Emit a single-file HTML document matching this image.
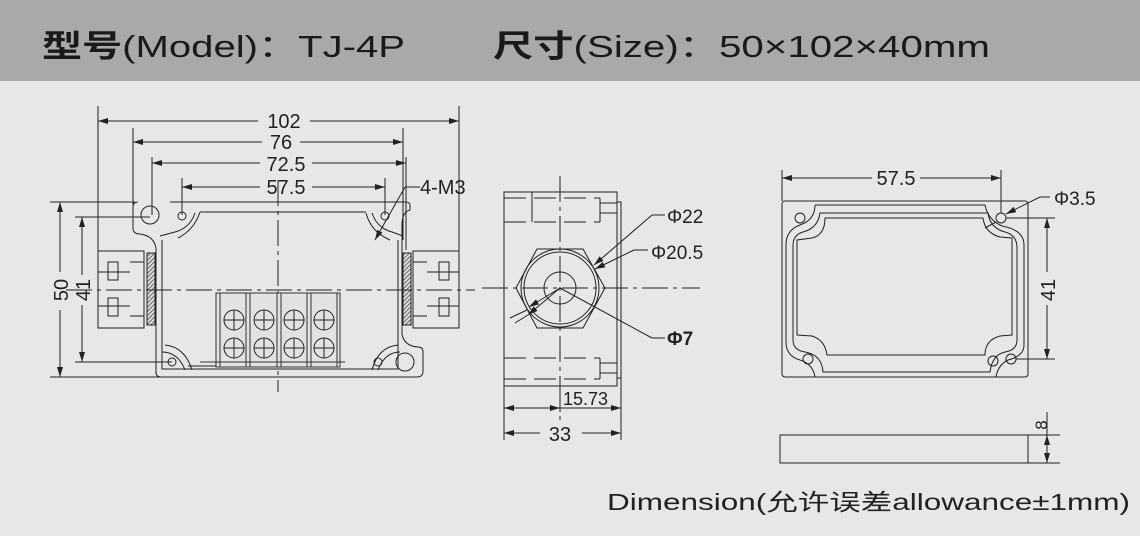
<!DOCTYPE html>
<html><head><meta charset="utf-8"><style>
html,body{margin:0;padding:0;background:#e6e7e8;}
svg{display:block}
</style></head><body>
<svg width="1140" height="536" viewBox="0 0 1140 536" xmlns="http://www.w3.org/2000/svg" font-family="Liberation Sans, sans-serif">
<defs>
<marker id="a" viewBox="0 0 10 6" refX="10" refY="3" markerWidth="10" markerHeight="6" orient="auto-start-reverse" markerUnits="userSpaceOnUse"><path d="M0,0 L10,3 L0,6z" fill="#222"/></marker>
<pattern id="h" width="3" height="3" patternUnits="userSpaceOnUse" patternTransform="rotate(45)"><rect width="3" height="3" fill="#ddd"/><line x1="0" y1="0" x2="0" y2="3" stroke="#333" stroke-width="1.4"/></pattern>
</defs>
<rect width="1140" height="81" fill="#a8a9ab"/>
<text x="42" y="57" font-size="31" fill="#1a1a1a" textLength="363" lengthAdjust="spacingAndGlyphs"><tspan font-family="Noto Sans CJK SC, sans-serif" font-weight="bold">型号</tspan>(Model)：TJ-4P</text>
<text x="493" y="57" font-size="31" fill="#1a1a1a" textLength="497" lengthAdjust="spacingAndGlyphs"><tspan font-family="Noto Sans CJK SC, sans-serif" font-weight="bold">尺寸</tspan>(Size)：50×102×40mm</text>

<g stroke="#222" stroke-width="1" fill="none">
<line x1="98" y1="106" x2="98" y2="252"/><line x1="459" y1="106" x2="459" y2="252"/>
<line x1="133" y1="128" x2="133" y2="205"/><line x1="403" y1="128" x2="403" y2="240"/>
<line x1="152" y1="157" x2="152" y2="215"/><line x1="406" y1="157" x2="406" y2="250"/>
<line x1="182" y1="178" x2="182" y2="215"/><line x1="385" y1="178" x2="385" y2="215"/>
<line x1="98" y1="121" x2="258" y2="121" marker-start="url(#a)"/><line x1="310" y1="121" x2="459" y2="121" marker-end="url(#a)"/>
<line x1="133" y1="142" x2="262" y2="142" marker-start="url(#a)"/><line x1="300" y1="142" x2="403" y2="142" marker-end="url(#a)"/>
<line x1="152" y1="163" x2="260" y2="163" marker-start="url(#a)"/><line x1="312" y1="163" x2="406" y2="163" marker-end="url(#a)"/>
<line x1="182" y1="187" x2="260" y2="187" marker-start="url(#a)"/><line x1="312" y1="187" x2="385" y2="187" marker-end="url(#a)"/>
<line x1="50" y1="202" x2="135" y2="202"/><line x1="50" y1="377" x2="160" y2="377"/>
<line x1="60" y1="202" x2="60" y2="272" marker-start="url(#a)"/><line x1="60" y1="310" x2="60" y2="377" marker-end="url(#a)"/>
<line x1="75" y1="217" x2="150" y2="217"/><line x1="75" y1="362" x2="172" y2="362"/>
<line x1="82" y1="217" x2="82" y2="275" marker-start="url(#a)"/><line x1="82" y1="305" x2="82" y2="362" marker-end="url(#a)"/>
<path d="M138,202 Q133,202 133,207 L133,228 Q133,234 140,234 Q154,236 156,248 L156,372 Q156,377 161,377 L417,377 Q423,377 423,371 L423,352 Q423,347 418,347 Q404,346 402,334 L402,225 Q402,212 410,210 L410,205 Q410,202 405,202 L170,202"/>
<path d="M162,240 L162,369 L398,369 L398,240"/>
<path d="M195,213 Q190,228 175,232 L160,236"/>
<path d="M200,212 Q194,230 178,238"/>
<path d="M372,213 Q377,228 392,232 L403,236"/>
<path d="M366,213 Q371,232 390,240"/>
<path d="M165,345 Q185,347 192,370 M162,352 Q178,352 185,370"/>
<path d="M398,345 Q378,347 372,370 M400,352 Q385,352 378,370"/>
<line x1="200" y1="212" x2="366" y2="212"/>
<line x1="188" y1="366" x2="340" y2="366"/>
<circle cx="150" cy="215" r="9"/><circle cx="182" cy="216" r="4"/><circle cx="385" cy="216" r="4"/>
<circle cx="172" cy="362" r="4"/><circle cx="378" cy="362" r="4"/><circle cx="405" cy="362" r="9"/>
<rect x="98" y="251" width="46" height="77"/>
<rect x="413" y="251" width="46" height="77"/>
<path d="M108,262 L118,262 L118,280 L108,280 Z M108,298 L118,298 L118,316 L108,316 Z M98,272 L130,272 M98,306 L130,306 M130,262 L144,262 M130,316 L144,316"/>
<path d="M439,262 L449,262 L449,280 L439,280 Z M439,298 L449,298 L449,316 L439,316 Z M427,272 L459,272 M427,306 L459,306 M413,262 L427,262 M413,316 L427,316"/>
<rect x="147" y="253" width="8" height="72" fill="url(#h)"/>
<rect x="403" y="253" width="8" height="72" fill="url(#h)"/>
<line x1="66" y1="290" x2="475" y2="290" stroke-dasharray="26,5,4,5"/>
<line x1="278" y1="180" x2="278" y2="392" stroke-dasharray="26,5,4,5"/>
<g stroke="#333">
<rect x="216" y="293" width="124" height="74" fill="#e2e2e2"/>
<line x1="220" y1="293" x2="220" y2="367"/>
<line x1="246" y1="293" x2="246" y2="367"/><line x1="250" y1="293" x2="250" y2="367"/>
<line x1="277" y1="293" x2="277" y2="367"/><line x1="281" y1="293" x2="281" y2="367"/>
<line x1="307" y1="293" x2="307" y2="367"/><line x1="311" y1="293" x2="311" y2="367"/>
<line x1="337" y1="293" x2="337" y2="367"/>
<line x1="200" y1="362" x2="345" y2="362"/>
</g>
<g stroke="#222">
<circle cx="234" cy="320" r="10"/><circle cx="264" cy="320" r="10"/><circle cx="294" cy="320" r="10"/><circle cx="324" cy="320" r="10"/>
<circle cx="234" cy="348" r="10"/><circle cx="264" cy="348" r="10"/><circle cx="294" cy="348" r="10"/><circle cx="324" cy="348" r="10"/>
<path d="M224,320h20M234,310v20M254,320h20M264,310v20M284,320h20M294,310v20M314,320h20M324,310v20M224,348h20M234,338v20M254,348h20M264,338v20M284,348h20M294,338v20M314,348h20M324,338v20"/>
</g>
<line x1="420" y1="187" x2="405" y2="187"/><line x1="405" y1="187" x2="375" y2="240" marker-end="url(#a)"/>

<rect x="504" y="192" width="113" height="194"/>
<rect x="617" y="202" width="4" height="176"/>
<line x1="504" y1="198" x2="600" y2="198" stroke-dasharray="22,8"/><line x1="504" y1="222" x2="600" y2="222" stroke-dasharray="22,8"/>
<line x1="532" y1="192" x2="532" y2="222"/><line x1="600" y1="198" x2="600" y2="222"/>
<line x1="600" y1="203" x2="617" y2="203"/><line x1="600" y1="213" x2="617" y2="213"/>
<line x1="504" y1="358" x2="600" y2="358" stroke-dasharray="22,8"/><line x1="504" y1="379" x2="600" y2="379" stroke-dasharray="22,8"/>
<line x1="600" y1="358" x2="600" y2="379"/>
<line x1="600" y1="363" x2="617" y2="363"/><line x1="600" y1="373" x2="617" y2="373"/>
<polygon points="516,288 537,249 583,249 605,288 583,328 537,328"/>
<circle cx="560" cy="288" r="39"/><circle cx="560" cy="288" r="36"/><circle cx="560" cy="288" r="16"/>
<line x1="482" y1="288" x2="700" y2="288" stroke-dasharray="26,5,4,5"/>
<line x1="560" y1="176" x2="560" y2="420" stroke-dasharray="26,5,4,5"/>
<line x1="665" y1="215" x2="652" y2="215"/><line x1="652" y1="215" x2="594" y2="265" marker-end="url(#a)"/><line x1="527" y1="310" x2="510" y2="318"/><line x1="560" y1="288" x2="529" y2="307" marker-end="url(#a)"/>
<line x1="648" y1="250" x2="634" y2="250"/><line x1="634" y1="250" x2="595" y2="269" marker-end="url(#a)"/><line x1="560" y1="288" x2="528" y2="315" marker-end="url(#a)"/><line x1="528" y1="315" x2="515" y2="323"/>
<line x1="665" y1="338" x2="652" y2="338"/><line x1="652" y1="338" x2="560" y2="288"/>
<line x1="504" y1="386" x2="504" y2="440"/><line x1="621" y1="378" x2="621" y2="440"/><line x1="560" y1="386" x2="560" y2="412"/>
<line x1="504" y1="408" x2="560" y2="408" marker-start="url(#a)" marker-end="url(#a)"/><line x1="560" y1="408" x2="621" y2="408" marker-end="url(#a)"/>
<line x1="504" y1="433" x2="540" y2="433" marker-start="url(#a)"/><line x1="582" y1="433" x2="621" y2="433" marker-end="url(#a)"/>

<rect x="782" y="201" width="246" height="176" rx="3"/>
<path d="M815,205 Q815,220 800,225 Q786,230 786,245 L786,342 Q786,356 800,360 Q813,364 815,377"/>
<path d="M815,205 L985,205 Q988,220 1002,226 Q1024,230 1024,245 L1024,345 Q1024,356 1008,360 Q998,365 996,377"/>
<path d="M820,213 Q818,228 803,232 Q793,235 793,245 L793,340 Q793,350 805,352 Q822,355 823,372 L990,372 Q992,355 1005,352 Q1017,350 1017,340 L1017,248 Q1017,235 1005,232 Q990,228 988,213 Z"/>
<path d="M825,218 L983,218 Q985,233 1000,237 L1012,238 L1012,335 L1000,336 Q985,340 985,355 L827,355 Q825,340 812,336 L797,335 L797,240 L812,238 Q825,235 825,218 Z"/>
<circle cx="800" cy="218" r="5"/><circle cx="1001" cy="218" r="5"/><circle cx="808" cy="359" r="5"/><circle cx="1011" cy="359" r="5"/><circle cx="993" cy="361" r="5"/>
<line x1="782" y1="170" x2="782" y2="201"/><line x1="1001" y1="170" x2="1001" y2="213"/>
<line x1="782" y1="178" x2="872" y2="178" marker-start="url(#a)"/><line x1="920" y1="178" x2="1001" y2="178" marker-end="url(#a)"/>
<line x1="1050" y1="197" x2="1040" y2="197"/><line x1="1040" y1="197" x2="1006" y2="214" marker-end="url(#a)"/><line x1="996" y1="222" x2="985" y2="228"/>
<line x1="1006" y1="218" x2="1055" y2="218"/><line x1="1016" y1="359" x2="1055" y2="359"/>
<line x1="1047" y1="218" x2="1047" y2="272" marker-start="url(#a)"/><line x1="1047" y1="305" x2="1047" y2="359" marker-end="url(#a)"/>
<rect x="780" y="435" width="248" height="28"/>
<line x1="1028" y1="435" x2="1060" y2="435"/><line x1="1028" y1="463" x2="1060" y2="463"/>
<line x1="1047" y1="412" x2="1047" y2="435"/><line x1="1047" y1="449" x2="1047" y2="435" marker-end="url(#a)"/><line x1="1047" y1="449" x2="1047" y2="463" marker-end="url(#a)"/>
</g>

<g fill="#222" font-size="20">
<text x="284" y="128" text-anchor="middle">102</text>
<text x="281" y="149" text-anchor="middle">76</text>
<text x="286" y="171" text-anchor="middle">72.5</text>
<text x="286" y="194" text-anchor="middle">57.5</text>
<text x="420" y="194">4-M3</text>
<text transform="translate(68,290) rotate(-90)" text-anchor="middle">50</text>
<text transform="translate(90,290) rotate(-90)" text-anchor="middle">41</text>
<text x="667" y="223" font-size="19">Φ22</text>
<text x="651" y="259" font-size="19">Φ20.5</text>
<text x="667" y="345" font-size="19" font-weight="bold">Φ7</text>
<text x="563" y="405" font-size="18">15.73</text>
<text x="560" y="441" text-anchor="middle">33</text>
<text x="896" y="185" text-anchor="middle">57.5</text>
<text x="1054" y="205" font-size="19">Φ3.5</text>
<text transform="translate(1055,290) rotate(-90)" text-anchor="middle">41</text>
<text transform="translate(1047,425) rotate(-90)" text-anchor="middle" font-size="17">8</text>
<text x="607" y="510" font-size="23" textLength="523" lengthAdjust="spacingAndGlyphs" font-family="Liberation Sans, Noto Sans CJK SC, sans-serif">Dimension(允许误差allowance±1mm)</text>
</g>
</svg>
</body></html>
